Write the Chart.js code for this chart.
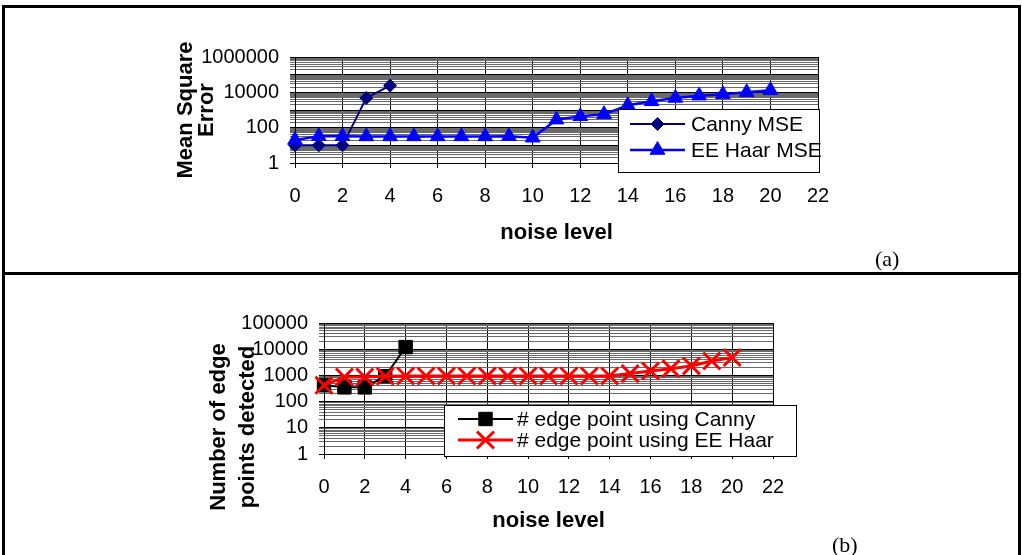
<!DOCTYPE html>
<html>
<head>
<meta charset="utf-8">
<script src="https://cdn.jsdelivr.net/npm/chart.js@4/dist/chart.umd.min.js"></script>
<style>
  html, body { margin:0; padding:0; background:#fff; overflow:hidden; }
  #page { position:relative; width:1022px; height:555px; overflow:hidden; background:#fff; }
  canvas { position:absolute; left:0; }
  #frame { position:absolute; left:2px; top:5px; width:1013px; height:600px; border:3px solid #000; pointer-events:none; }
  #divider { position:absolute; left:2px; top:272px; width:1019px; height:3px; background:#000; }
  .tag { position:absolute; font-family:"Liberation Serif","Times New Roman",serif; font-size:22px; color:#000; line-height:22px; }
</style>
</head>
<body>
<div id="page">
  <canvas id="chartMse" width="1022" height="272" style="top:0"></canvas>
  <canvas id="chartEdges" width="1022" height="280" style="top:275px"></canvas>
  <div id="frame"></div>
  <div id="divider"></div>
  <div class="tag" style="left:875px; top:248px">(a)</div>
  <div class="tag" style="left:832px; top:534px">(b)</div>
</div>
<script>
// noise level on x, log-scale values on y
const noiseLevels = [0,1,2,3,4,5,6,7,8,9,10,11,12,13,14,15,16,17,18,19,20];
const xTickValues = [0,2,4,6,8,10,12,14,16,18,20,22];

// (a) mean square error
const cannyMse = [10, 10, 10, 4800, 24000];
const haarMse = [20, 33, 33, 32, 32, 32, 32, 32, 32, 33, 27, 285, 440, 570, 1850, 3100, 4800, 6500, 7700, 10000, 13000];
const mseTickLabels = [1, 100, 10000, 1000000];

// (b) number of edge points detected
const cannyEdges = [420, 350, 350, 930, 12000];
const haarEdges = [420, 870, 870, 930, 950, 950, 950, 950, 950, 950, 950, 950, 950, 950, 950, 1170, 1480, 1810, 2300, 3550, 4800];
const edgeTickLabels = [1, 10, 100, 1000, 10000, 100000];

const FONT = '"Liberation Sans", Arial, sans-serif';

function toPoints(vals){ return vals.map((v,i) => ({ x: noiseLevels[i], y: v })); }

// every 1..9 x 10^k line, like a log axis with minor gridlines
function logGrid(lo, hi){
  const out = [];
  for (let e = lo; e < hi; e++){
    for (let d = 1; d < 10; d++) out.push(d * Math.pow(10, e));
  }
  out.push(Math.pow(10, hi));
  return out;
}
function isDecade(v){ const l = Math.log10(v); return Math.abs(l - Math.round(l)) < 1e-9; }

// boxed legend drawn over the plot (Excel style)
const boxLegend = {
  id: 'boxLegend',
  afterDraw(chart, args, o){
    const ctx = chart.ctx;
    ctx.save();
    ctx.fillStyle = '#fff';
    ctx.fillRect(o.x, o.y, o.w, o.h);
    ctx.strokeStyle = '#000'; ctx.lineWidth = 1;
    ctx.strokeRect(o.x + 0.5, o.y + 0.5, o.w, o.h);
    o.items.forEach((idx, i) => {
      const ds = chart.data.datasets[idx];
      const y = o.rowY[i];
      ctx.strokeStyle = ds.borderColor;
      ctx.lineWidth = ds.borderWidth;
      ctx.beginPath(); ctx.moveTo(o.lineX0, y); ctx.lineTo(o.lineX1, y); ctx.stroke();
      ctx.fillStyle = ds.pointBackgroundColor || ds.backgroundColor;
      ctx.strokeStyle = ds.pointBorderColor || ds.borderColor;
      ctx.lineWidth = ds.pointBorderWidth;
      if (Chart.helpers && Chart.helpers.drawPoint){
        Chart.helpers.drawPoint(ctx, { pointStyle: ds.pointStyle, radius: ds.pointRadius, borderWidth: ds.pointBorderWidth, rotation: 0 }, (o.lineX0 + o.lineX1) / 2, y);
      }
      ctx.fillStyle = '#000';
      ctx.font = o.font;
      ctx.textAlign = 'left'; ctx.textBaseline = 'middle';
      ctx.fillText(ds.label, o.textX, y + 1);
    });
    ctx.restore();
  }
};

// rotated two-line y title, placed freely
const sideTitle = {
  id: 'sideTitle',
  afterDraw(chart, args, o){
    const ctx = chart.ctx;
    ctx.save();
    ctx.font = o.font; ctx.fillStyle = '#000';
    ctx.textAlign = 'center'; ctx.textBaseline = 'middle';
    o.lines.forEach((t, i) => {
      ctx.save();
      ctx.translate(o.xs[i], o.y);
      ctx.rotate(-Math.PI / 2);
      ctx.fillText(t, 0, 0);
      ctx.restore();
    });
    ctx.restore();
  }
};

function makeScales(cfg){
  return {
    x: {
      type: 'linear', min: 0, max: 22,
      afterBuildTicks: s => { s.ticks = xTickValues.map(v => ({ value: v })); },
      afterFit: s => { s.height = cfg.xHeight; },
      ticks: { autoSkip: false, maxRotation: 0, padding: 16, color: '#000', font: { family: FONT, size: 20 } },
      grid: { color: '#000', lineWidth: 1, tickLength: 5 },
      border: { color: '#000', width: 1 },
      title: { display: true, text: 'noise level', color: '#000', padding: 0, font: { family: FONT, size: 22, weight: 'bold' } }
    },
    y: {
      type: 'logarithmic', min: 1, max: Math.pow(10, cfg.decades),
      afterBuildTicks: s => { s.ticks = logGrid(0, cfg.decades).map(v => ({ value: v })); },
      afterFit: s => { s.width = cfg.left; },
      ticks: {
        autoSkip: false, padding: 11, color: '#000', font: { family: FONT, size: 20 },
        callback: v => cfg.labels.includes(v) ? String(v) : ''
      },
      grid: {
        lineWidth: 1, tickLength: 5,
        color: c => (c.tick && isDecade(c.tick.value)) ? '#000' : '#6a6a6a'
      },
      border: { color: '#000', width: 1 }
    }
  };
}

const common = {
  responsive: false,
  animation: false,
  devicePixelRatio: 1,
  events: []
};

new Chart(document.getElementById('chartMse'), {
  type: 'line',
  data: {
    datasets: [
      { label: 'Canny MSE', data: toPoints(cannyMse), order: 1, clip: false,
        borderColor: '#000080', backgroundColor: '#000080', borderWidth: 2,
        pointStyle: 'rectRot', pointRadius: 6.5, pointBorderWidth: 1, tension: 0 },
      { label: 'EE Haar MSE', data: toPoints(haarMse), order: 0, clip: false,
        borderColor: '#0000FF', backgroundColor: '#0000FF', borderWidth: 2.5,
        pointStyle: 'triangle', pointRadius: 8.5, pointBorderWidth: 1, tension: 0 }
    ]
  },
  options: Object.assign({}, common, {
    layout: { padding: { left: 0, right: 204, top: 57, bottom: 26 } },
    scales: makeScales({ left: 295, xHeight: 83, decades: 6, labels: mseTickLabels }),
    plugins: {
      legend: { display: false }, tooltip: { enabled: false },
      boxLegend: { x: 618, y: 109, w: 201, h: 63, rowY: [124, 150], items: [0, 1],
        lineX0: 630, lineX1: 685, textX: 691, font: '21px ' + FONT },
      sideTitle: { lines: ['Mean Square', 'Error'], xs: [186, 207], y: 110, font: 'bold 22px ' + FONT }
    }
  }),
  plugins: [boxLegend, sideTitle]
});

new Chart(document.getElementById('chartEdges'), {
  type: 'line',
  data: {
    datasets: [
      { label: '# edge point using Canny', data: toPoints(cannyEdges), order: 1, clip: false,
        borderColor: '#000', backgroundColor: '#000', borderWidth: 2,
        pointStyle: 'rect', pointRadius: 9.5, pointBorderWidth: 1, tension: 0 },
      { label: '# edge point using EE Haar', data: toPoints(haarEdges), order: 0, clip: false,
        borderColor: '#FF0000', backgroundColor: '#FF0000', borderWidth: 3,
        pointStyle: 'crossRot', pointRadius: 12, pointBorderWidth: 3, tension: 0 }
    ]
  },
  options: Object.assign({}, common, {
    layout: { padding: { left: 0, right: 249, top: 48, bottom: 21 } },
    scales: makeScales({ left: 324, xHeight: 80, decades: 5, labels: edgeTickLabels }),
    plugins: {
      legend: { display: false }, tooltip: { enabled: false },
      boxLegend: { x: 444, y: 130, w: 352, h: 51, rowY: [144, 165], items: [0, 1],
        lineX0: 458, lineX1: 513, textX: 517, font: '21px ' + FONT },
      sideTitle: { lines: ['Number of edge', 'points detected'], xs: [219, 248], y: 152, font: 'bold 22px ' + FONT }
    }
  }),
  plugins: [boxLegend, sideTitle]
});
</script>
</body>
</html>
